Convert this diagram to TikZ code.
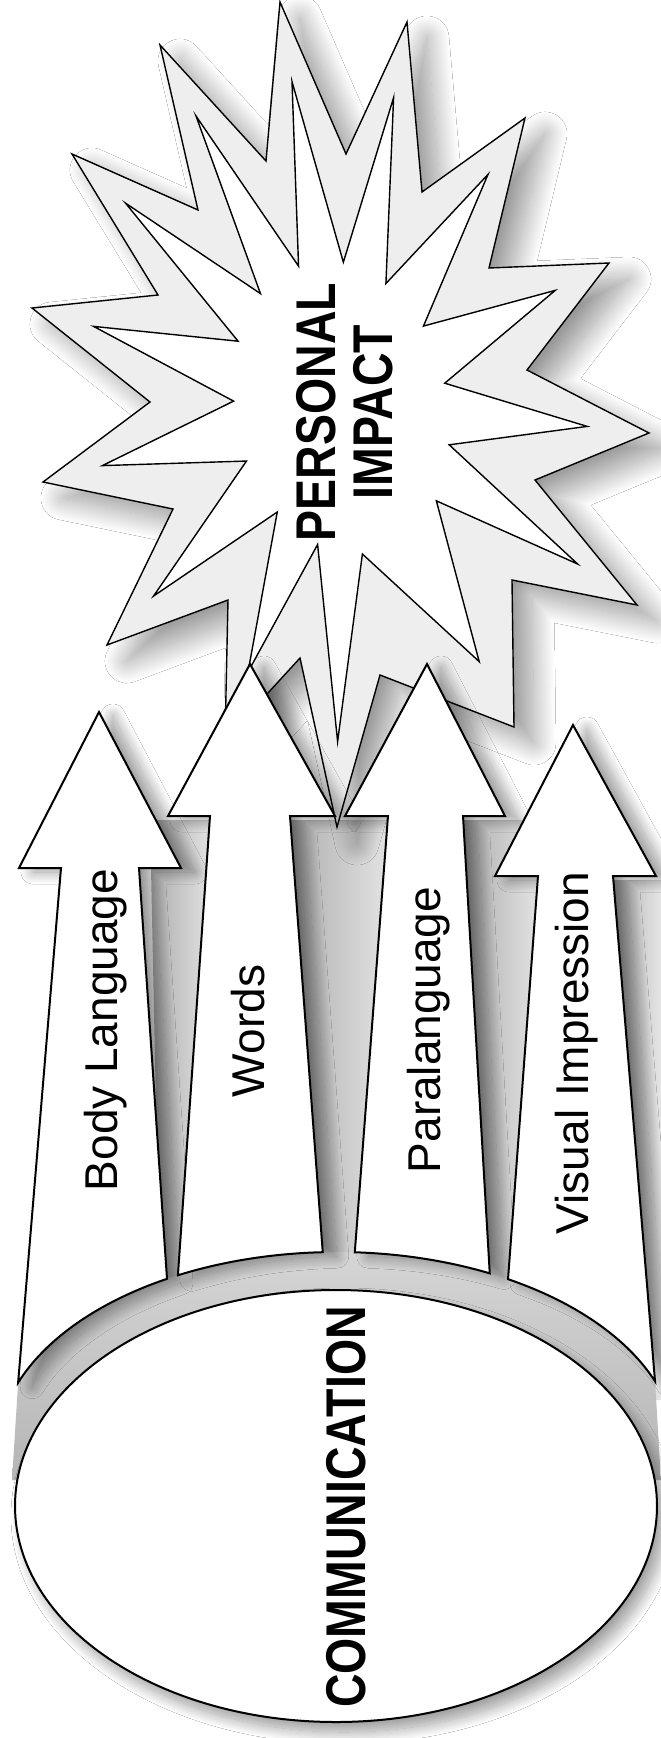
\documentclass[tikz,border=0pt]{standalone}
\usepackage{fontspec}
\setmainfont{Liberation Sans}
\newfontfamily\headfont[FakeStretch=0.83]{Liberation Sans}
\usepackage{tikz}
\usetikzlibrary{calc,shadows.blur}

% star outline: tip and the valley after it, going round
\newcommand{\starline}[2]{($(sc)!#2!(266,161)$)
  \foreach \tx/\ty/\vx/\vy in {280/2/346/154, 407/22/422/192, 525/118/489/268,
    609/263/527/370, 649/433/535/480, 637/605/512/580, 514/727/380/675,
    337/827/300/658, 225/740/228/600, 107/645/173/509, 43/482/150/402,
    32/308/158/295, 72/154/198/210, 160/45/266/161}
  { -- ($(sc)!#1!(\tx,\ty)$) -- ($(sc)!#2!(\vx,\vy)$) } -- cycle}

\tikzset{
  starout/.style={fill=gray!13, draw=black, line width=1.4pt, line join=miter,
    blur shadow={shadow xshift=20pt, shadow yshift=-16pt, shadow blur radius=22pt,
      shadow blur steps=30, shadow opacity=40}},
  starin/.style={fill=white, draw=black, line width=1.4pt, line join=miter},
  arrowbox/.style={fill=white, draw=black, line width=2pt, line join=miter,
    blur shadow={shadow xshift=14pt, shadow yshift=-4pt, shadow blur radius=12pt,
      shadow blur steps=24, shadow opacity=40}},
  gap/.style={left color=gray!65, right color=gray!20},
  lbl/.style={font=\fontsize{46}{50}\selectfont, rotate=90, anchor=base, inner sep=0pt},
  bigl/.style={font=\headfont\bfseries\fontsize{56}{57}\selectfont, rotate=90, anchor=base, inner sep=0pt},
}

\begin{document}
\begin{tikzpicture}[x=1pt, y=-1pt]
  \fill[white] (0,0) rectangle (661,1738);
  \useasboundingbox (0,0) rectangle (661,1738);
  \coordinate (sc) at (340,400);
  \coordinate (bc) at (337,1452);

  % shaded gaps between the shafts
  \shade[gap] (150,820) -- (214,820) -- (178,1300) -- (160,1300) -- cycle;
  \shade[gap] (287,820) -- (392,820) -- (358,1270) -- (320,1270) -- cycle;
  \shade[gap] (461,820) -- (542,820) -- (512,1300) -- (486,1300) -- cycle;
  \shade[gap] (610,880) -- (661,880) -- (661,1400) -- (650,1400) -- cycle;

  % burst
  \filldraw[starout] \starline{1}{1};
  \filldraw[starin] \starline{0.8}{0.56};
  \node[bigl] (personal) at (335,412) {PERSONAL};
  \node[bigl] (impact) at (392,412) {IMPACT};

  % rim and base
  \shade[top color=gray!30, bottom color=gray!58]
    ($(bc)+(200.3:340 and 200)$) arc[start angle=200.3, end angle=339.3, x radius=340, y radius=200]
    -- (661,1480) -- (12,1480) -- cycle;
  \filldraw[fill=white, draw=black, line width=2pt,
    blur shadow={shadow xshift=8pt, shadow yshift=-10pt, shadow blur radius=12pt,
      shadow blur steps=24, shadow opacity=40}]
    (336,1506) ellipse [x radius=321, y radius=216];
  \node[bigl] (comm) at (365,1507) {COMMUNICATION};

  % arrows
  \filldraw[arrowbox] (99,712) -- (181,868) -- (139,868)
    -- ($(bc)+(240:340 and 200)$) arc[start angle=240, end angle=200.3, x radius=340, y radius=200]
    -- (61,868) -- (19,868) -- cycle;
  \filldraw[arrowbox] (250,664) -- (335,816) -- (290,816)
    -- ($(bc)+(267.6:340 and 200)$) arc[start angle=267.6, end angle=242.1, x radius=340, y radius=200]
    -- (210,816) -- (168,816) -- cycle;
  \filldraw[arrowbox] (427,664) -- (505,816) -- (463,816)
    -- ($(bc)+(296.7:340 and 200)$) arc[start angle=296.7, end angle=273, x radius=340, y radius=200]
    -- (388,816) -- (345,816) -- cycle;
  \filldraw[arrowbox] (573,725) -- (656,876) -- (613,876)
    -- ($(bc)+(339.3:340 and 200)$) arc[start angle=339.3, end angle=300.2, x radius=340, y radius=200]
    -- (538,876) -- (495,876) -- cycle;

  \node[lbl] (body) at (117,1030) {Body Language};
  \node[lbl] (words) at (264,1031) {Words};
  \node[lbl] (para) at (440,1030) {Paralanguage};
  \node[lbl] (visual) at (588,1053) {Visual Impression};
\end{tikzpicture}
\end{document}
